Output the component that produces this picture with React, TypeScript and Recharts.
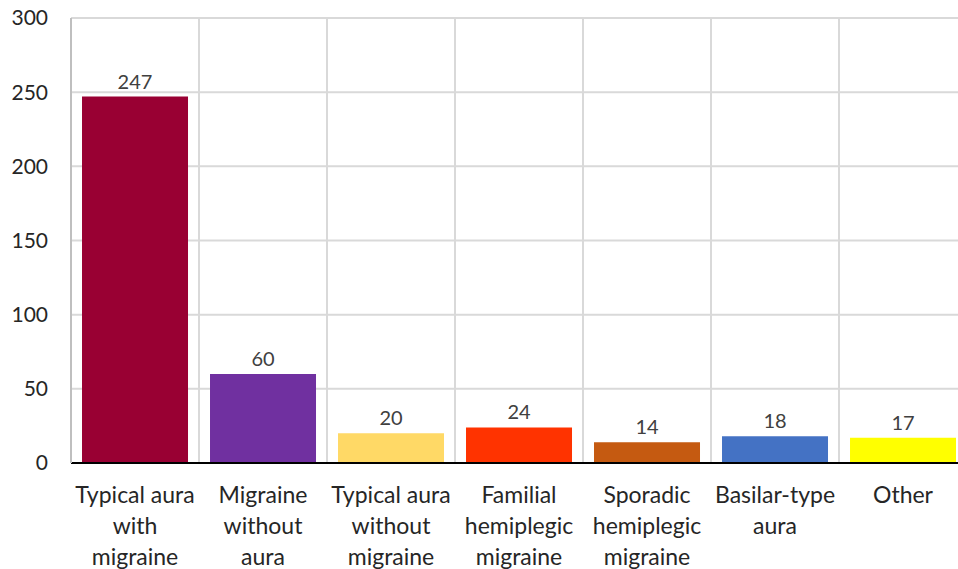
import React from "react";
import { BarChart, Bar, XAxis, YAxis, CartesianGrid, Cell, LabelList } from "recharts";

const categories = [
  "Typical aura\nwith\nmigraine",
  "Migraine\nwithout\naura",
  "Typical aura\nwithout\nmigraine",
  "Familial\nhemiplegic\nmigraine",
  "Sporadic\nhemiplegic\nmigraine",
  "Basilar-type\naura",
  "Other",
];
const counts = [247, 60, 20, 24, 14, 18, 17];
const colors = ["#990033", "#7030A0", "#FFD966", "#FF3300", "#C55A11", "#4472C4", "#FFFF00"];
const yTicks = [0, 50, 100, 150, 200, 250, 300];

const data = categories.map((c, i) => ({ name: c, value: counts[i] }));

const FONT = "Lato, 'Open Sans', sans-serif";

const CategoryTick = (props: any) => {
  const { x, y, payload } = props;
  const lines = String(payload.value).split("\n");
  return (
    <g transform={`translate(${x},${y})`}>
      {lines.map((l, i) => (
        <text
          key={i}
          x={0}
          y={i * 31}
          dy={32}
          textAnchor="middle"
          fontSize={23}
          fontFamily={FONT}
          fill="#262626"
        >
          {l}
        </text>
      ))}
    </g>
  );
};

export default function App() {
  const W = 980;
  const H = 569;
  return (
    <div
      style={{
        position: "fixed",
        left: 0,
        top: 0,
        width: 958,
        height: H,
        overflow: "hidden",
        background: "#fff",
      }}
    >
      <BarChart
        width={W}
        height={H}
        data={data}
        margin={{ top: 18, right: 13, bottom: 0, left: 0 }}
        barCategoryGap="8.6%"
      >
        <CartesianGrid
          stroke="#d9d9d9"
          strokeWidth={2}
          verticalCoordinatesGenerator={({ offset }: any) =>
            categories.map((_, i) => offset.left + (i * offset.width) / categories.length).concat([offset.left + offset.width])
          }
        />
        <XAxis
          dataKey="name"
          tick={<CategoryTick />}
          tickLine={false}
          axisLine={{ stroke: "#000", strokeWidth: 2 }}
          interval={0}
          height={106}
        />
        <YAxis
          width={71}
          domain={[0, 300]}
          ticks={yTicks}
          tickLine={false}
          tickSize={0}
          tickMargin={23}
          axisLine={{ stroke: "#bfbfbf", strokeWidth: 2 }}
          tick={{ fontSize: 21, fontFamily: FONT, fill: "#262626" }}
        />
        <Bar dataKey="value" isAnimationActive={false}>
          {data.map((_, i) => (
            <Cell key={i} fill={colors[i]} />
          ))}
          <LabelList
            dataKey="value"
            position="top"
            offset={8}
            style={{ fontSize: 20, fontFamily: FONT, fill: "#404040" }}
          />
        </Bar>
      </BarChart>
    </div>
  );
}
